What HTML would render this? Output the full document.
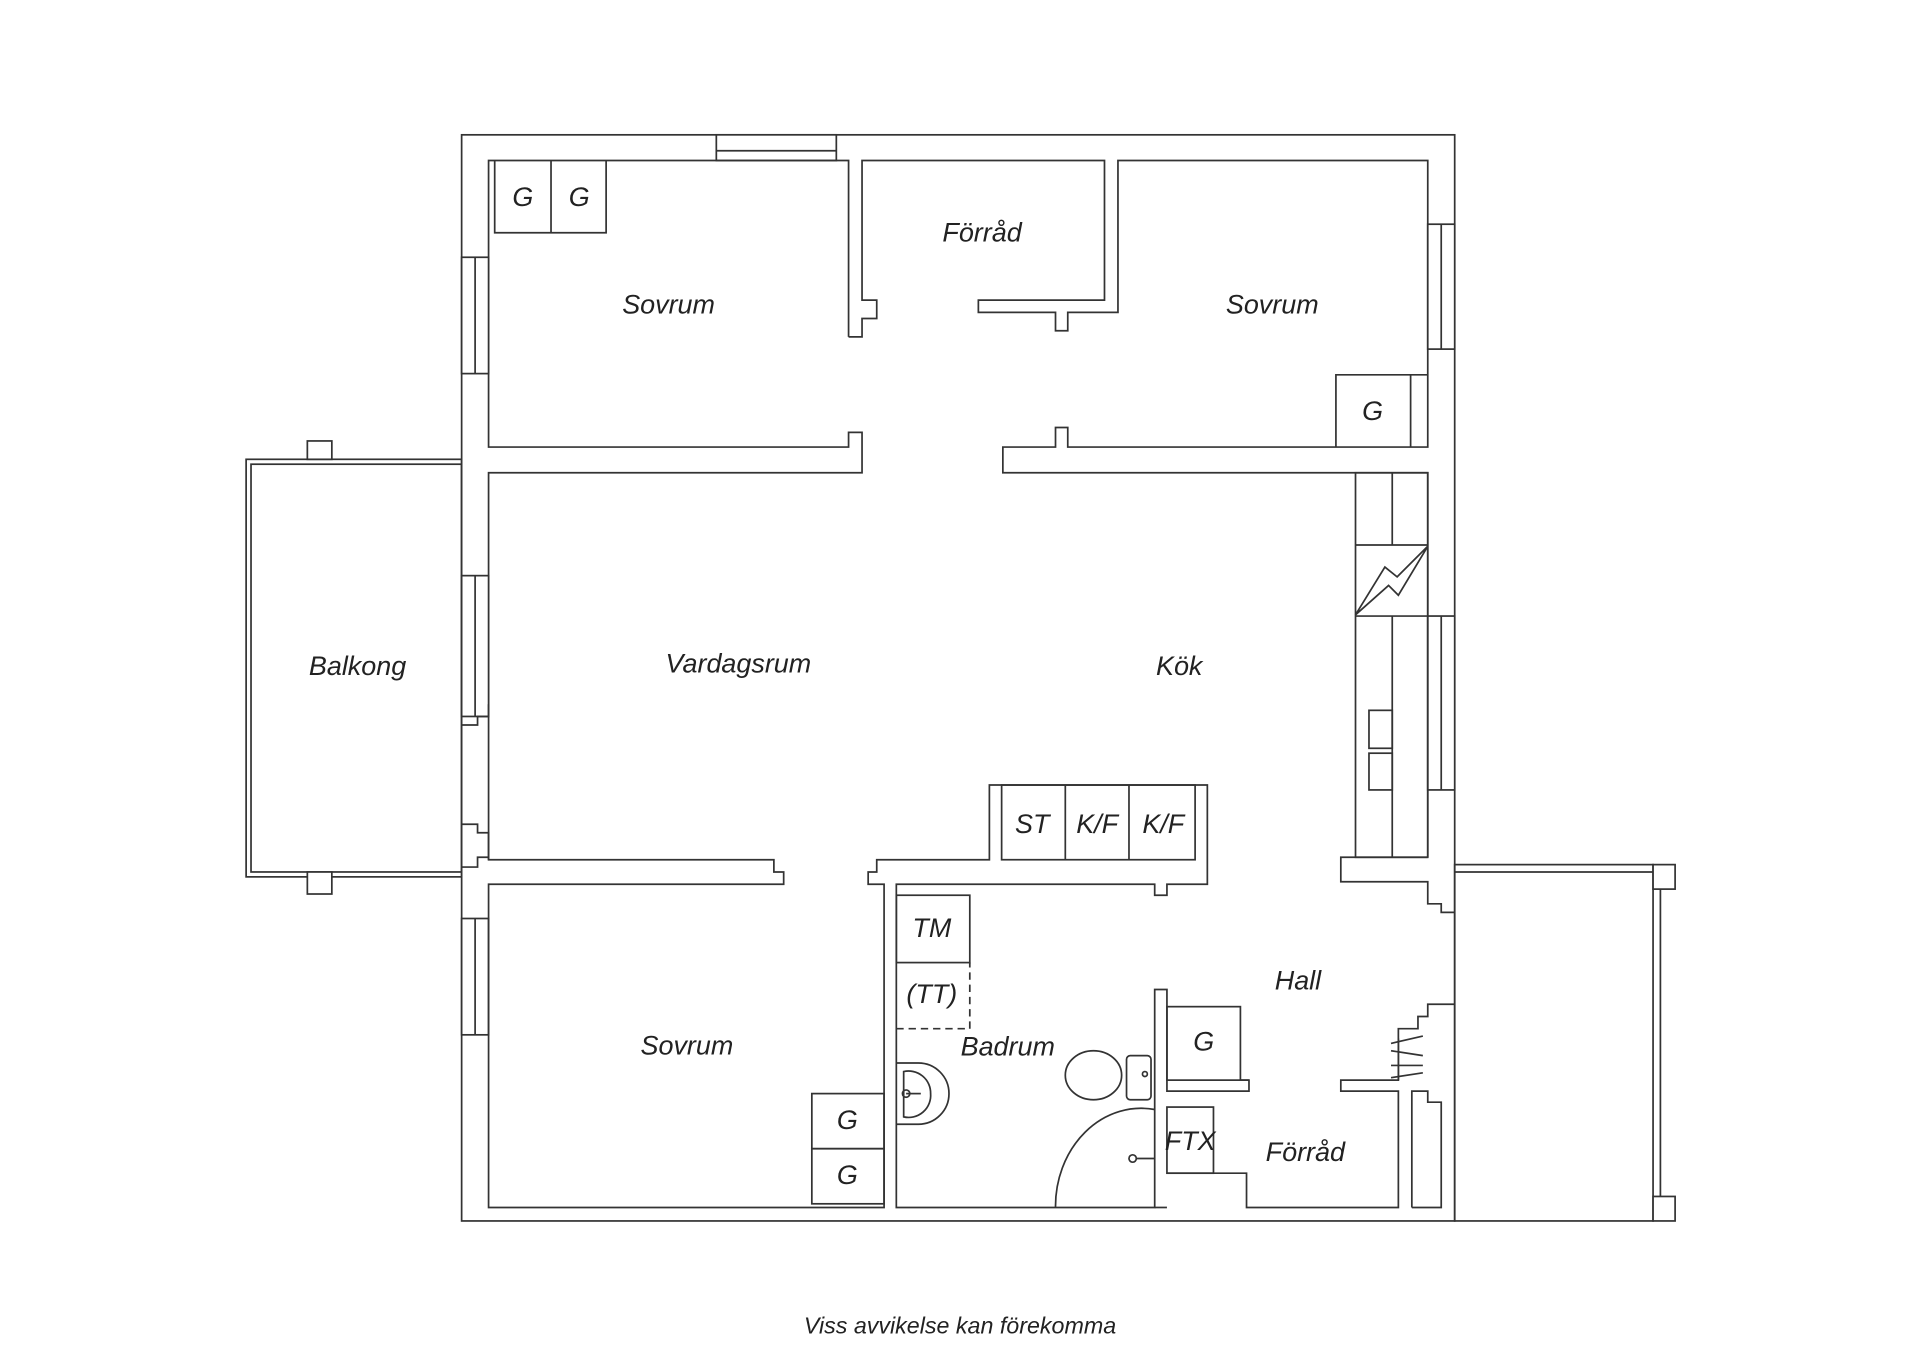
<!DOCTYPE html>
<html><head><meta charset="utf-8"><style>
html,body{margin:0;padding:0;background:#fff;}
svg{display:block;}
text{font-family:"Liberation Sans","DejaVu Sans",sans-serif;font-style:italic;fill:#222;}
</style></head><body>
<svg width="1920" height="1357" viewBox="0 0 1568 1108" xmlns="http://www.w3.org/2000/svg">
<g fill="none" stroke="#333" stroke-width="1.4" stroke-linejoin="miter">
<rect x="377" y="110" width="811" height="887"/>
<rect x="585" y="110" width="98" height="21" fill="#fff"/>
<line x1="585" y1="123" x2="683" y2="123"/>
<polyline points="693,275 693,131 399,131 399,365 693,365 693,353 704,353 704,386 399,386 399,702"/>
<polyline points="693,275 704,275 704,260 716,260 716,245 704,245 704,131 902,131 902,245 799,245 799,255 862,255 862,270 872,270 872,255 913,255 913,131 1166,131 1166,365 872,365 872,349 862,349 862,365 819,365 819,386 1166,386 1166,700"/>
<rect x="377" y="210" width="22" height="95" fill="#fff"/>
<line x1="388" y1="210" x2="388" y2="305"/>
<rect x="377" y="470" width="22" height="115" fill="#fff"/>
<line x1="388" y1="470" x2="388" y2="585"/>
<polyline points="399,575 399,585 390,585 390,592 377,592"/>
<rect x="377" y="750" width="22" height="95" fill="#fff"/>
<line x1="388" y1="750" x2="388" y2="845"/>
<rect x="1166" y="183" width="22" height="102" fill="#fff"/>
<line x1="1177" y1="183" x2="1177" y2="285"/>
<rect x="1166" y="503" width="22" height="142" fill="#fff"/>
<line x1="1177" y1="503" x2="1177" y2="645"/>
<polyline points="404,131 404,190 495,190 495,131"/>
<line x1="450" y1="131" x2="450" y2="190"/>
<polyline points="1166,306 1091,306 1091,365"/>
<line x1="1152" y1="306" x2="1152" y2="365"/>
<rect x="201" y="375" width="176" height="341"/>
<rect x="205" y="379" width="172" height="333"/>
<rect x="251" y="360" width="20" height="15" fill="#fff"/>
<rect x="251" y="712" width="20" height="18" fill="#fff"/>
<rect x="1107" y="386" width="59" height="314"/>
<line x1="1137" y1="386" x2="1137" y2="445"/>
<line x1="1137" y1="503" x2="1137" y2="700"/>
<line x1="1107" y1="445" x2="1166" y2="445"/>
<line x1="1107" y1="503" x2="1166" y2="503"/>
<polygon points="1107,502 1131,463 1141,471 1166,446 1142,486 1134,478"/>
<rect x="1118" y="580" width="19" height="31"/>
<rect x="1118" y="615" width="19" height="30"/>
<polyline points="377,673 390,673 390,680 399,680 399,702 632,702 632,712 640,712 640,722 399,722 399,986 722,986 722,722 709,722 709,712 716,712 716,702 808,702 808,641 986,641 986,722 953,722 953,731 943,731 943,722 732,722 732,986 943,986 943,808 953,808 953,891 1020,891 1020,882 1013,882"/>
<polyline points="377,708 390,708 390,700 399,700"/>
<rect x="818" y="641" width="158" height="61"/>
<line x1="870" y1="641" x2="870" y2="702"/>
<line x1="922" y1="641" x2="922" y2="702"/>
<rect x="663" y="893" width="59" height="45"/>
<rect x="663" y="938" width="59" height="45"/>
<rect x="732" y="731" width="60" height="55"/>
<polyline points="732,840 792,840 792,786" stroke-dasharray="6,4"/>
<path d="M732,868 L750,868 A25,25 0 0 1 775,893 A25,25 0 0 1 750,918 L732,918"/>
<path d="M738,875 A18,18 0 0 1 760,893 A18,18 0 0 1 738,912 Z"/>
<line x1="740" y1="893" x2="752" y2="893"/>
<circle cx="740" cy="893" r="3"/>
<ellipse cx="893" cy="878" rx="23" ry="20"/>
<rect x="920" y="862" width="20" height="36" rx="3"/>
<circle cx="935" cy="877" r="2"/>
<path d="M943,906 A70,80 0 0 0 862,986"/>
<circle cx="925" cy="946" r="3"/>
<line x1="928" y1="946" x2="943" y2="946"/>
<rect x="953" y="822" width="60" height="60"/>
<line x1="1013" y1="882" x2="1020" y2="882"/>
<rect x="953" y="904" width="38" height="54"/>
<polyline points="953,958 1018,958 1018,986 1142,986 1142,891 1095,891 1095,882 1142,882 1142,840 1158,840 1158,830 1166,830 1166,820 1188,820"/>
<polyline points="1153,986 1153,891 1166,891 1166,900 1177,900 1177,986 1166,986 1153,986"/>
<line x1="943" y1="986" x2="953" y2="986"/>
<polyline points="1166,700 1095,700 1095,720 1166,720 1166,738 1177,738 1177,745 1188,745"/>
<line x1="1142" y1="848" x2="1142" y2="882"/>
<line x1="1136" y1="852" x2="1162" y2="846"/>
<line x1="1136" y1="858" x2="1162" y2="862"/>
<line x1="1136" y1="870" x2="1162" y2="870"/>
<line x1="1136" y1="880" x2="1162" y2="876"/>
<rect x="1188" y="706" width="162" height="291"/>
<line x1="1188" y1="712" x2="1350" y2="712"/>
<rect x="1350" y="706" width="18" height="20" fill="#fff"/>
<rect x="1350" y="977" width="18" height="20" fill="#fff"/>
<line x1="1356" y1="726" x2="1356" y2="977"/>
</g>
<g font-size="22">
<text x="427" y="168" text-anchor="middle">G</text>
<text x="473" y="168" text-anchor="middle">G</text>
<text x="546" y="256" text-anchor="middle">Sovrum</text>
<text x="802" y="197" text-anchor="middle">Förråd</text>
<text x="1039" y="256" text-anchor="middle">Sovrum</text>
<text x="1121" y="343" text-anchor="middle">G</text>
<text x="292" y="551" text-anchor="middle">Balkong</text>
<text x="603" y="549" text-anchor="middle">Vardagsrum</text>
<text x="963" y="551" text-anchor="middle">Kök</text>
<text x="843" y="680" text-anchor="middle">ST</text>
<text x="896" y="680" text-anchor="middle">K/F</text>
<text x="950" y="680" text-anchor="middle">K/F</text>
<text x="761" y="765" text-anchor="middle">TM</text>
<text x="761" y="819" text-anchor="middle">(TT)</text>
<text x="1060" y="808" text-anchor="middle">Hall</text>
<text x="561" y="861" text-anchor="middle">Sovrum</text>
<text x="823" y="862" text-anchor="middle">Badrum</text>
<text x="983" y="858" text-anchor="middle">G</text>
<text x="692" y="922" text-anchor="middle">G</text>
<text x="692" y="967" text-anchor="middle">G</text>
<text x="972" y="939" text-anchor="middle">FTX</text>
<text x="1066" y="948" text-anchor="middle">Förråd</text>
</g>
<text x="784" y="1089" text-anchor="middle" font-size="19">Viss avvikelse kan förekomma</text>
</svg>
</body></html>
